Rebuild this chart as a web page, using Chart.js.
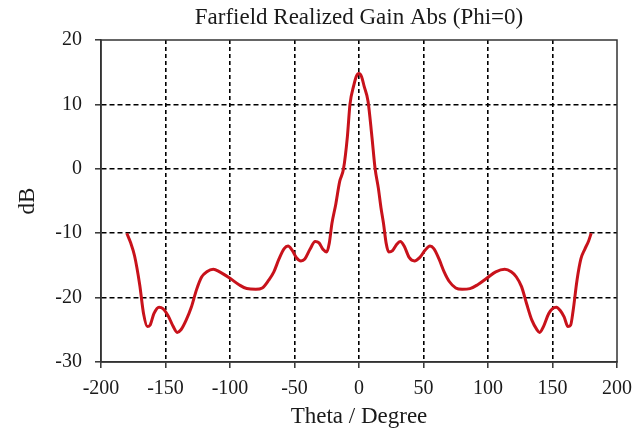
<!DOCTYPE html>
<html>
<head>
<meta charset="utf-8">
<script src="https://cdn.jsdelivr.net/npm/chart.js@4/dist/chart.umd.min.js"></script>
<style>
  html, body { margin: 0; padding: 0; background: #fff; }
  #wrap { width: 643px; height: 431px; }
</style>
</head>
<body>
<div id="wrap"><canvas id="gainChart"></canvas></div>
<script>
// theta in degrees, realized gain in dB
const theta = [-180, -177, -174, -170, -167, -164, -162, -159, -155, -152, -148, -144, -141, -138, -134, -130,
    -126, -122, -118, -113, -108, -100, -93, -87, -80, -75, -70, -66, -62, -58, -55, -52, -48.5, -45, -42,
    -38, -34, -31, -28, -25, -23, -21, -18, -15, -12, -9, -7, -4, -2, 0, 2, 4, 7, 10, 12.5, 15, 17, 19, 21,
    23, 26, 29, 32, 35, 39, 43, 47, 51, 55, 58, 62, 66, 70, 75, 80, 86, 92, 99, 106, 113, 118, 122, 126,
    130, 134, 138, 140, 143, 147, 150, 153, 156, 159, 162, 164, 166, 169, 172, 175, 178, 180];
const gainDb = [-10, -11.5, -13.5, -18, -22.5, -24.5, -24.3, -22.5, -21.5, -21.7, -22.8, -24.5, -25.4, -25, -23.5, -21.5,
    -18.8, -16.8, -16, -15.6, -16, -17, -18, -18.6, -18.7, -18.5, -17.3, -16, -14, -12.4, -12, -12.6, -13.8, -14.3, -14,
    -12.5, -11.3, -11.5, -12.5, -12.9, -11.5, -8.5, -5.5, -2, 0, 5, 10, 13, 14.4, 14.8, 14.3, 12.8, 10.5, 5, 0, -3, -6, -8.5, -11.5,
    -12.9, -12.7, -11.8, -11.3, -12, -13.8, -14.3, -13.8, -12.7, -12, -12.4, -14, -16, -17.5, -18.5, -18.7, -18.6, -18, -17, -16, -15.6, -16, -16.8, -18.3,
    -21, -23.5, -25, -25.4, -24.5, -22.5, -21.7, -21.5, -22, -23, -24.5, -24.3, -22, -17.3, -14, -12.5, -11.2, -10];

const titleText = 'Farfield Realized Gain Abs (Phi=0)';
const xTitle = 'Theta / Degree';
const yTitle = 'dB';

const serif = "'Liberation Serif', 'Times New Roman', serif";
const ink = '#1a1a1a';

// title centred over the plot area, not the canvas
const titlePlugin = {
    id: 'farTitle',
    afterDraw(chart) {
        const a = chart.chartArea;
        const ctx = chart.ctx;
        ctx.save();
        ctx.font = '23px ' + serif;
        ctx.fillStyle = ink;
        ctx.textAlign = 'center';
        ctx.textBaseline = 'middle';
        ctx.fillText(titleText, (a.left + a.right) / 2, 18);
        ctx.restore();
    }
};

// closed frame round the plot
const framePlugin = {
    id: 'frame',
    afterDraw(chart) {
        const a = chart.chartArea;
        const ctx = chart.ctx;
        ctx.save();
        ctx.strokeStyle = '#333';
        ctx.lineWidth = 1.5;
        ctx.strokeRect(a.left, a.top, a.right - a.left, a.bottom - a.top);
        ctx.restore();
    }
};

const points = theta.map((t, i) => ({ x: t, y: gainDb[i] }));

new Chart(document.getElementById('gainChart'), {
    type: 'line',
    data: {
        datasets: [{
            data: points,
            borderColor: '#c8121b',
            borderWidth: 3,
            pointRadius: 0,
            tension: 0.4,
            cubicInterpolationMode: 'monotone',
            fill: false
        }]
    },
    options: {
        responsive: true,
        maintainAspectRatio: false,
        animation: false,
        layout: { padding: { top: 40, right: 26, left: 0, bottom: 0 } },
        plugins: {
            legend: { display: false },
            tooltip: { enabled: false }
        },
        scales: {
            x: {
                type: 'linear',
                min: -200,
                max: 200,
                afterFit: (s) => { s.height = 69; },
                ticks: {
                    stepSize: 50,
                    color: ink,
                    font: { family: serif, size: 20 },
                    padding: 9
                },
                grid: {
                    color: (c) => (c.index === 0 || c.index === 8) ? 'rgba(0,0,0,0)' : '#000',
                    lineWidth: 1.6,
                    tickLength: 6,
                    tickColor: '#333',
                    tickWidth: 1.5,
                    tickBorderDash: []
                },
                border: { display: true, color: '#333', width: 1.5, dash: [4, 3] },
                title: {
                    display: true,
                    text: xTitle,
                    color: ink,
                    font: { family: serif, size: 23 },
                    padding: { top: 0, bottom: 0 }
                }
            },
            y: {
                min: -30,
                max: 20,
                afterFit: (s) => { s.width = 101; },
                ticks: {
                    stepSize: 10,
                    color: ink,
                    font: { family: serif, size: 20 },
                    padding: 13
                },
                grid: {
                    color: (c) => (c.index === 0 || c.index === 5) ? 'rgba(0,0,0,0)' : '#000',
                    lineWidth: 1.6,
                    tickLength: 6,
                    tickColor: '#333',
                    tickWidth: 1.5,
                    tickBorderDash: []
                },
                border: { display: true, color: '#333', width: 1.5, dash: [5, 3] },
                title: {
                    display: true,
                    text: yTitle,
                    color: ink,
                    font: { family: serif, size: 23 },
                    padding: { top: 14, bottom: 0 }
                }
            }
        }
    },
    plugins: [titlePlugin, framePlugin]
});
</script>
</body>
</html>
